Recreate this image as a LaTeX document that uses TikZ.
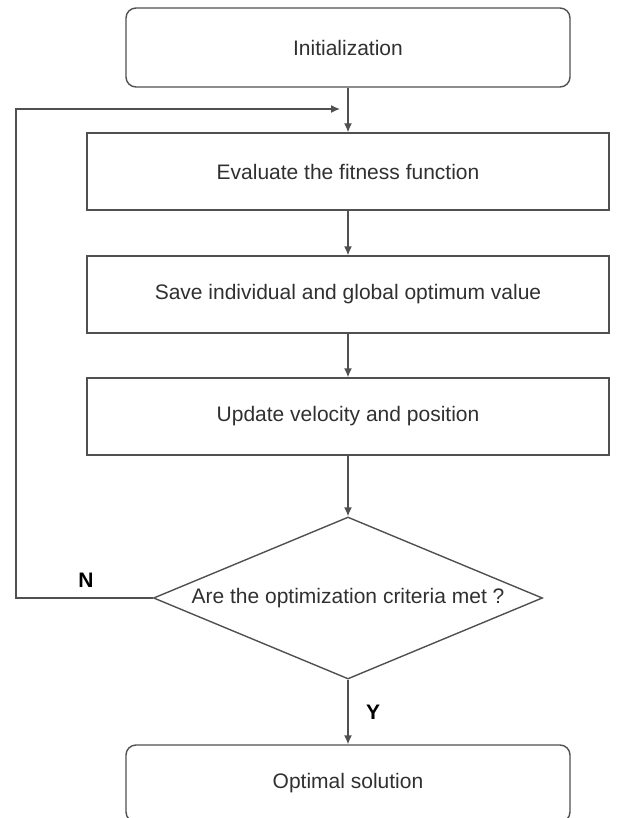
\documentclass[tikz,border=0pt]{standalone}
\usepackage{fontspec}
\setmainfont{Liberation Sans}
\usetikzlibrary{shapes.geometric,arrows.meta}
\tikzset{>={Latex[length=9pt,width=8pt]}}
\definecolor{linegray}{HTML}{505050}
\definecolor{textgray}{HTML}{303030}
\tikzset{
    flowbox/.style={draw=linegray, line width=1.4pt, text=textgray,
        font=\fontsize{21}{25}\selectfont, inner sep=0pt,
        minimum width=522pt, minimum height=77pt},
    endbox/.style={flowbox, rounded corners=10pt,
        minimum width=444pt, minimum height=79pt},
    decision/.style={flowbox, diamond, aspect=2.4,
        minimum width=389pt, minimum height=162pt},
    flowline/.style={draw=linegray, line width=1.4pt},
    yn/.style={font=\bfseries\fontsize{21}{25}\selectfont, text=black}
}

\begin{document}
\begin{tikzpicture}[x=1pt,y=-1pt]
            \useasboundingbox (0,0) rectangle (616,818);
            \node[endbox] (init) at (348,47.5) {Initialization};
            \node[flowbox] (eval) at (348,171.5) {Evaluate the fitness function};
            \node[flowbox] (save) at (348,294.5) {Save individual and global optimum value};
            \node[flowbox] (update) at (348,416.5) {Update velocity and position};
            \node[decision] (check) at (348,598) {Are the optimization criteria met ?};
            \node[endbox, minimum height=77pt] (optimal) at (348,783.5) {Optimal solution};
            \coordinate (loopleft) at (16,109);
            \coordinate (loopin) at (340,109);
            \draw[flowline,->] (init) -- (eval);
            \draw[flowline,->] (eval) -- (save);
            \draw[flowline,->] (save) -- (update);
            \draw[flowline,->] (update) -- (check);
            \draw[flowline,->] (check) -- (optimal);
            \draw[flowline,->] (check.west) -| (loopleft) -- (loopin);
            \node[yn] (nlabel) at (86,580) {N};
            \node[yn] (ylabel) at (373,712) {Y};
        \end{tikzpicture}
\end{document}
